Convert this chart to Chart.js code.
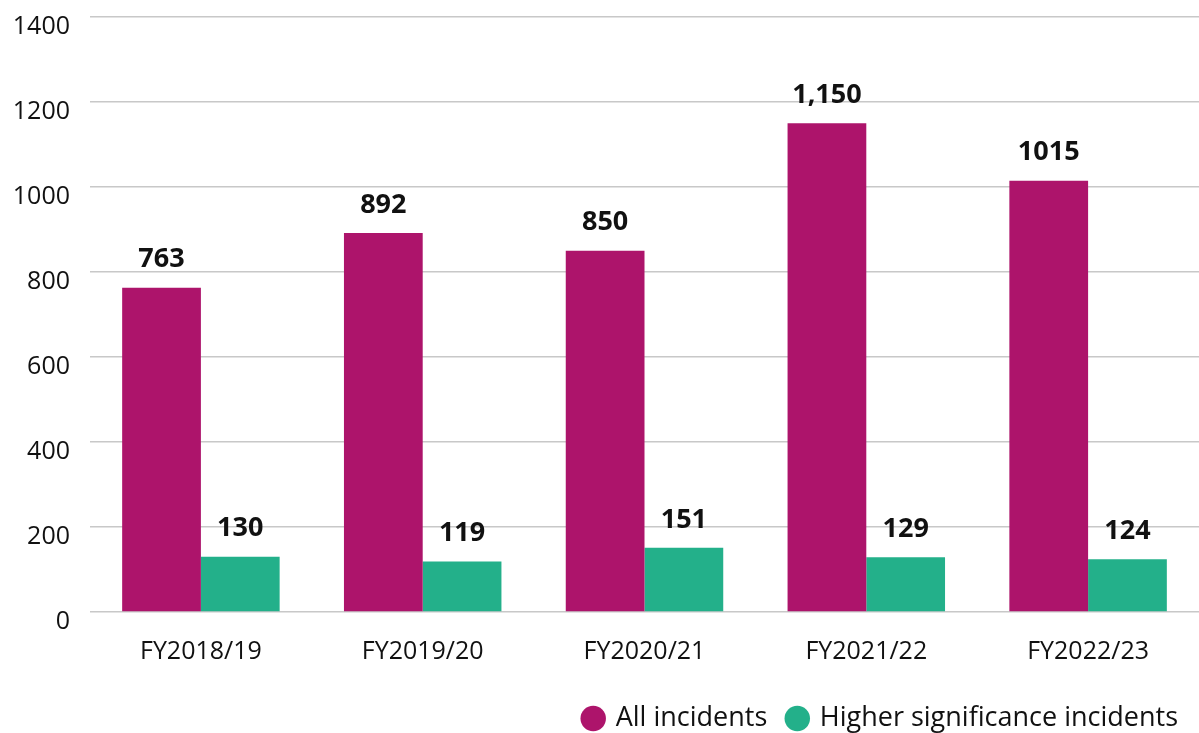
<!DOCTYPE html>
<html>
<head>
<meta charset="utf-8">
<script src="https://cdn.jsdelivr.net/npm/chart.js@4"></script>
<style>
html,body{margin:0;padding:0;background:#fff;overflow:hidden;}
#wrap{width:1199px;height:733px;position:relative;overflow:hidden;}
#c{position:absolute;left:0;top:0;}
</style>
</head>
<body>
<div id="wrap"><canvas id="c" width="1199" height="742"></canvas></div>
<script>
const categories = ["FY2018/19","FY2019/20","FY2020/21","FY2021/22","FY2022/23"];
const allIncidents = [763, 892, 850, 1150, 1015];
const higherSignificance = [130, 119, 151, 129, 124];
const allIncidentsLabels = ["763","892","850","1,150","1015"];
const higherSignificanceLabels = ["130","119","151","129","124"];
const seriesNames = ["All incidents","Higher significance incidents"];

const FONT = "'Open Sans', Lato, sans-serif";

const valueLabels = {
  id: 'valueLabels',
  afterDatasetsDraw(chart) {
    const ctx = chart.ctx;
    ctx.save();
    ctx.font = "bold 27px " + FONT;
    ctx.fillStyle = "#111";
    ctx.textAlign = "center";
    ctx.textBaseline = "middle";
    chart.data.datasets.forEach((ds, di) => {
      const meta = chart.getDatasetMeta(di);
      meta.data.forEach((bar, i) => {
        ctx.fillText(ds.valueLabels[i], bar.x, bar.y - 28);
      });
    });
    ctx.restore();
  }
};

new Chart(document.getElementById('c'), {
  type: 'bar',
  data: {
    labels: categories,
    datasets: [
      {label: seriesNames[0], data: allIncidents, valueLabels: allIncidentsLabels, backgroundColor: '#AD146B'},
      {label: seriesNames[1], data: higherSignificance, valueLabels: higherSignificanceLabels, backgroundColor: '#23B08A'}
    ]
  },
  options: {
    responsive: false,
    animation: false,
    devicePixelRatio: 1,
    layout: {padding: {top: 17, right: 0, left: 0, bottom: 0}},
    datasets: {bar: {categoryPercentage: 0.71, barPercentage: 1.0}},
    plugins: {
      tooltip: {enabled: false},
      legend: {
        position: 'bottom',
        align: 'end',
        labels: {
          usePointStyle: true,
          pointStyle: 'circle',
          boxWidth: 18,
          boxHeight: 18,
          padding: 21,
          color: '#111',
          font: {family: FONT, size: 27}
        }
      }
    },
    scales: {
      x: {
        grid: {display: false},
        border: {display: false},
        ticks: {color: '#111', font: {family: FONT, size: 25}, padding: 17}
      },
      y: {
        min: 0, max: 1400,
        ticks: {stepSize: 200, color: '#111', font: {family: FONT, size: 25}, labelOffset: 10, padding: 20,
                callback: (v) => String(v)},
        grid: {color: '#c8c8c8', lineWidth: 1.5, drawTicks: false},
        border: {display: false},
        afterFit(scale) { scale.width = 90; scale.paddingTop = 0; scale.paddingBottom = 0; }
      }
    }
  },
  plugins: [valueLabels]
});
</script>
</body>
</html>
